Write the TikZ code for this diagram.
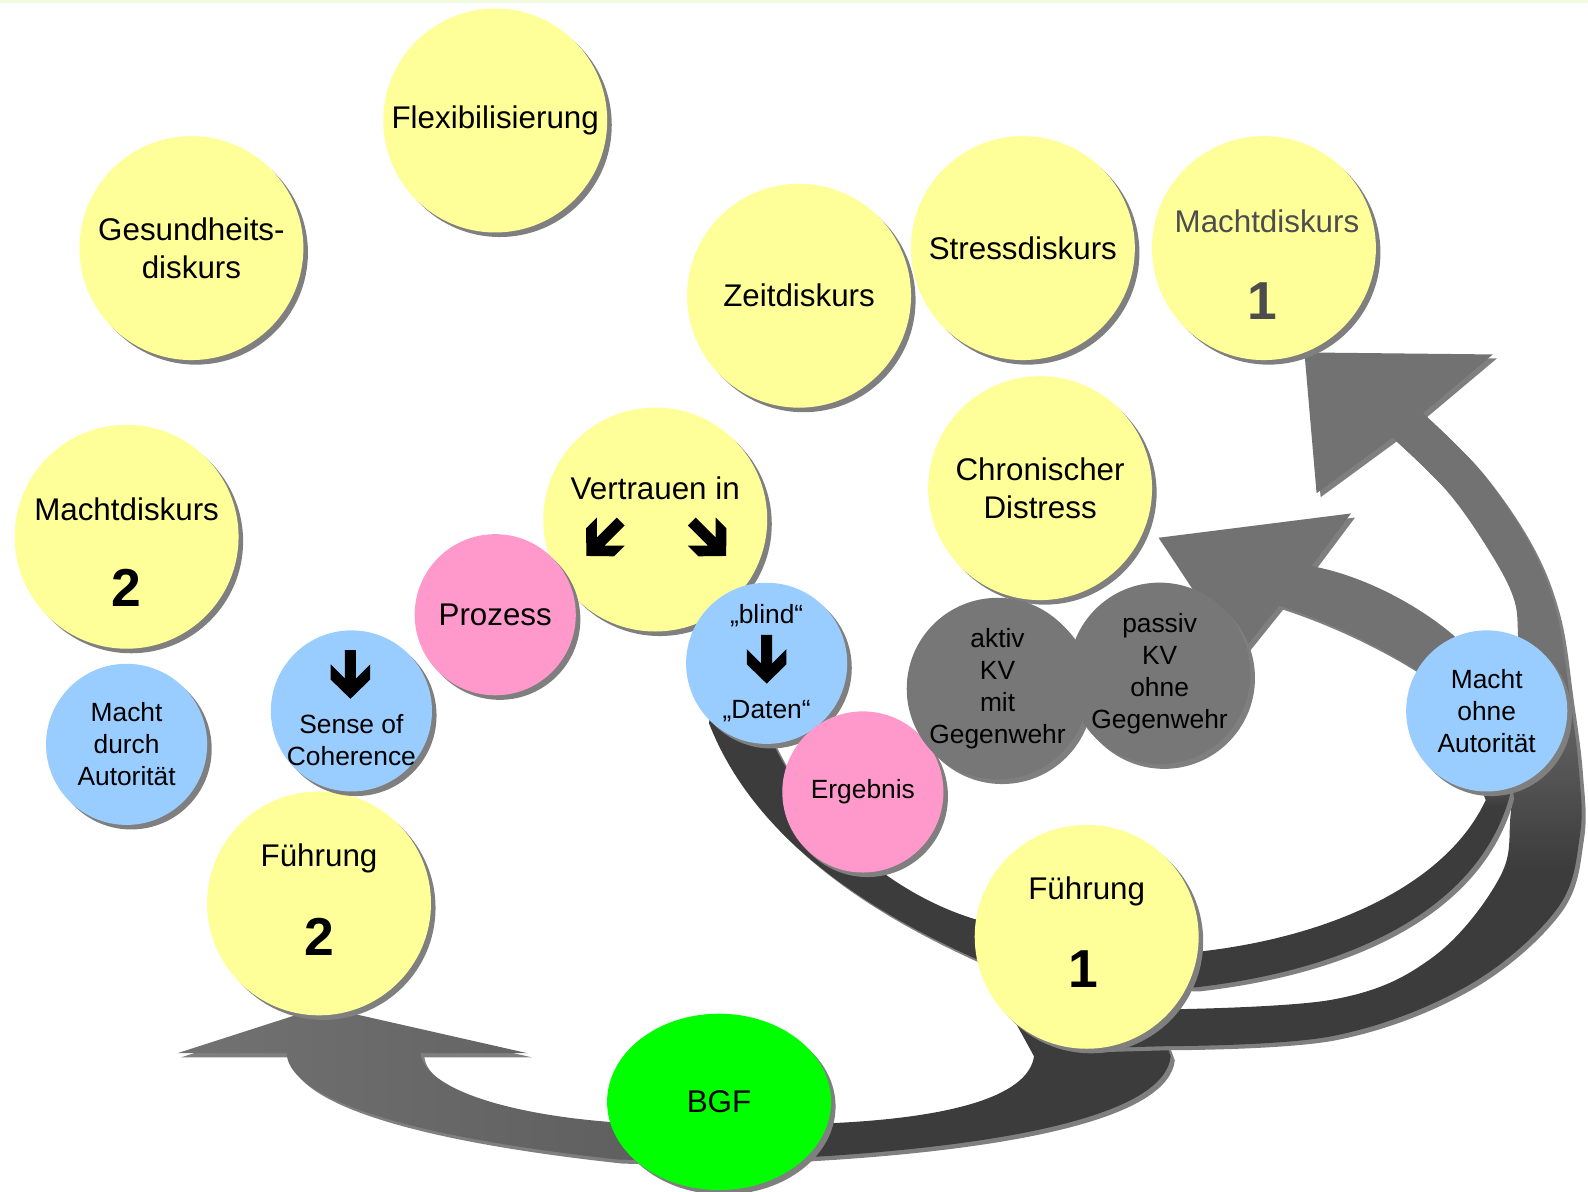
\documentclass[tikz,border=0pt]{standalone}
\usepackage{fontspec}
\setmainfont{Liberation Sans}
\usetikzlibrary{shapes.geometric, shadows}

\definecolor{ballyellow}{HTML}{FFFF99}
\definecolor{ballblue}{HTML}{99CCFF}
\definecolor{ballpink}{HTML}{FF99CC}
\definecolor{ballgray}{HTML}{777777}
\definecolor{ballgreen}{HTML}{00FF00}
\definecolor{shadowgray}{HTML}{7F7F7F}
\definecolor{ribbonlight}{HTML}{727272}
\definecolor{ribbonmid}{HTML}{5E5E5E}
\definecolor{ribbondark}{HTML}{3C3C3C}
\definecolor{machtgray}{HTML}{4D4D4D}
\definecolor{topline}{HTML}{F4F9E2}

\newcommand{\ballfont}{\fontsize{8.8pt}{10.8pt}\selectfont}
\newcommand{\dotfont}{\fontsize{7.4pt}{9pt}\selectfont}
\newcommand{\countfont}{\fontsize{15pt}{18pt}\selectfont\bfseries}

\pgfdeclareverticalshading{outerfade}{100bp}{color(0bp)=(ribbondark); color(38bp)=(ribbondark); color(53bp)=(ribbonlight); color(100bp)=(ribbonlight)}
\pgfdeclareverticalshading{innerfade}{100bp}{color(0bp)=(ribbondark); color(44bp)=(ribbondark); color(50bp)=(ribbonlight); color(100bp)=(ribbonlight)}

\newcommand{\bandleft}{(660,1107) -- (604,1108) .. controls (500,1100) and (420,1075) .. (415,1040) -- (521,1040) -- (318,994) -- (175,1040) -- (283,1040) .. controls (285,1080) and (380,1120) .. (611,1145) -- (660,1146) -- cycle}
\newcommand{\bandright}{(760,1100) -- (822,1109) .. controls (930,1104) and (1015,1085) .. (1021,1043) -- (1004,1012) -- (1050,990) -- (1140,1000) -- (1156,1043) .. controls (1150,1100) and (1000,1130) .. (809,1142) -- (760,1145) -- cycle}
\newcommand{\bandup}{(1000,950) -- (964,947) .. controls (860,900) and (745,830) .. (700,714) -- (705,690) -- (757,720) .. controls (790,800) and (870,880) .. (964,908) -- (1000,905) -- cycle}
\newcommand{\bandinner}{(1150,974) -- (1180,975) .. controls (1330,958) and (1460,900) .. (1491,785) -- (1480,700) -- (1436,628) .. controls (1400,597) and (1345,568) .. (1295,559) -- (1334,507) -- (1144,531) -- (1222,649) -- (1263,598) .. controls (1315,615) and (1365,640) .. (1399,662) -- (1440,720) -- (1467,790) .. controls (1430,870) and (1320,925) .. (1181,940) -- (1150,940) -- cycle}
\newcommand{\bandouter}{(1080,1000) -- plot[smooth, tension=0.6] coordinates {(1135,997) (1316,987) (1415,945) (1481,866) (1492,800) (1500,700) (1499,629) (1494,589) (1468,540) (1428,484) (1375,432)} -- (1300,487) -- (1288,348) -- (1474,350) -- plot[smooth, tension=0.6] coordinates {(1405,408) (1461,464) (1510,536) (1537,605) (1550,688) (1559,760) (1560,825) (1537,898) (1448,974) (1316,1023) (1152,1033)} -- (1080,1035) -- cycle}

\begin{document}
\begin{tikzpicture}[x=0.01cm, y=-0.01cm,
    ballshadow/.style={drop shadow={shadow xshift=0.045cm, shadow yshift=-0.045cm, fill=shadowgray, opacity=1}},
    ball/.style={circle, fill=#1, inner sep=0pt, minimum size=2.21cm, align=center, font=\ballfont, ballshadow},
    smallball/.style={circle, fill=#1, inner sep=0pt, minimum size=1.59cm, align=center, font=\dotfont, ballshadow},
    kvball/.style={circle, fill=ballgray, inner sep=0pt, minimum size=1.75cm, align=center, font=\dotfont, ballshadow},
    bgfball/.style={ellipse, fill=ballgreen, inner sep=0pt, minimum width=2.21cm, minimum height=1.74cm, font=\ballfont, ballshadow},
    word/.style={inner sep=0pt, align=center, font=\ballfont},
    digit/.style={inner sep=0pt, font=\countfont},
    bandshadow/.style={fill=shadowgray, shift={(4,4)}},
    blockarrow/.pic={\fill[black] (-5.5,-24) -- (5.5,-24) -- (5.5,4) -- (19.5,-10) -- (19.5,5) -- (0,24) -- (-19.5,5) -- (-19.5,-10) -- (-5.5,4) -- cycle;}
]
\useasboundingbox (0,0) rectangle (1568,1177);
\fill[topline] (0,0) rectangle (1568,3);

\fill[bandshadow] \bandleft;
\shade[left color=ribbonlight, right color=ribbonmid] \bandleft;
\fill[bandshadow] \bandright;
\fill[ribbondark] \bandright;
\fill[bandshadow] \bandouter;
\shade[shading=outerfade] \bandouter;
\fill[bandshadow] \bandinner;
\shade[shading=innerfade] \bandinner;
\fill[bandshadow] \bandup;
\fill[ribbondark] \bandup;

\node[ball=ballyellow] (flex) at (489,119) {Flexibilisierung};
\node[ball=ballyellow] (gesund) at (189,245) {Gesundheits-\\diskurs};
\node[ball=ballyellow] (stress) at (1010,245) {Stressdiskurs};
\node[ball=ballyellow] (zeit) at (789,292) {Zeitdiskurs};
\node[ball=ballyellow] (macht1) at (1248,245) {};
\node[word, text=machtgray] (macht1word) at (1251,219) {Machtdiskurs};
\node[digit, text=machtgray] (macht1digit) at (1246,297) {1};
\node[ball=ballyellow] (chron) at (1027,482) {Chronischer\\Distress};
\node[ball=ballyellow] (macht2) at (125,530) {};
\node[word] (macht2word) at (125,503) {Machtdiskurs};
\node[digit] (macht2digit) at (125,580) {2};
\node[smallball=ballblue] (durch) at (125,735) {Macht\\durch\\Autorität};

\node[ball=ballyellow] (vertrauen) at (647,513) {};
\node[word] (vertrauenword) at (647,482) {Vertrauen in};
\pic[rotate=-45] at (596,532) {blockarrow};
\pic[rotate=45] at (700,532) {blockarrow};
\node[smallball=ballpink, font=\ballfont] (prozess) at (489,607) {Prozess};
\node[smallball=ballblue] (blind) at (757,655) {};
\node[word, font=\dotfont] (blindword) at (757,608) {„blind“};
\pic at (757,651) {blockarrow};
\node[word, font=\dotfont] (datenword) at (757,702) {„Daten“};
\node[smallball=ballpink] (ergebnis) at (852,782) {Ergebnis};

\node[kvball] (aktiv) at (985,680) {aktiv\\KV\\mit\\Gegenwehr};
\node[kvball] (passiv) at (1145,665) {passiv\\KV\\ohne\\Gegenwehr};

\node[ball=ballyellow] (fuehr2) at (315,892) {};
\node[word] (fuehr2word) at (315,848) {Führung};
\node[digit] (fuehr2digit) at (315,925) {2};
\node[smallball=ballblue] (soc) at (347,702) {};
\pic at (346,666) {blockarrow};
\node[word, font=\dotfont] (socword) at (347,731) {Sense of\\Coherence};

\node[ball=ballyellow] (fuehr1) at (1073,925) {};
\node[word] (fuehr1word) at (1073,880) {Führung};
\node[digit] (fuehr1digit) at (1070,957) {1};
\node[smallball=ballblue] (ohne) at (1468,702) {Macht\\ohne\\Autorität};
\node[bgfball] (bgf) at (710,1088) {BGF};
\end{tikzpicture}
\end{document}
